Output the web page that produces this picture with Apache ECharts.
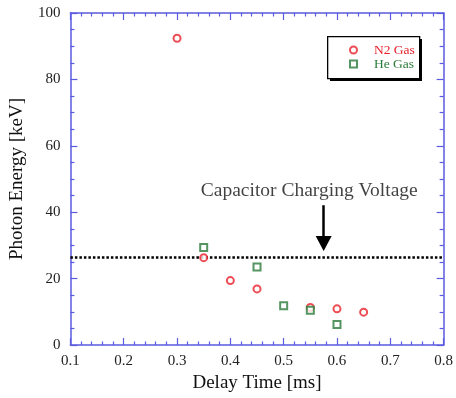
<!DOCTYPE html>
<html><head><meta charset="utf-8">
<script src="https://cdn.jsdelivr.net/npm/echarts@6/dist/echarts.min.js"></script>
<style>html,body{margin:0;padding:0;background:#fff}#c{width:456px;height:398px}</style>
</head><body><div id="c"></div>
<script>
var n2Delay = [0.3, 0.35, 0.4, 0.45, 0.55, 0.6, 0.65];
var n2Energy = [92.4, 26.3, 19.4, 16.9, 11.3, 10.9, 9.9];
var heDelay = [0.35, 0.45, 0.5, 0.55, 0.6];
var heEnergy = [29.4, 23.5, 11.8, 10.5, 6.2];
var chargingVoltage = 26.4;
var arrowX = 0.575;
var arrowFrom = 42.1;
var arrowTo = 30.6;
var annotationText = 'Capacitor Charging Voltage';
var annotationPos = [0.548, 46.3];

var serif = 'Liberation Serif';
var blue = '#5a5ae0';
function pairs(xs, ys){ return xs.map(function(x,i){ return [x, ys[i]]; }); }

var chart = echarts.init(document.getElementById('c'));
var baseX = {
  type:'value', min:0.1, max:0.8, interval:0.1,
  axisLine:{show:true, onZero:false, lineStyle:{color:blue, width:1.5}},
  axisTick:{show:true, inside:true, length:7, lineStyle:{color:blue, width:1.2}},
  minorTick:{show:true, splitNumber:5, length:3.5, lineStyle:{color:blue, width:1.2}},
  splitLine:{show:false}
};
var baseY = {
  type:'value', min:0, max:100, interval:20,
  axisLine:{show:true, onZero:false, lineStyle:{color:blue, width:1.5}},
  axisTick:{show:true, inside:true, length:7, lineStyle:{color:blue, width:1.2}},
  minorTick:{show:true, splitNumber:4, length:4, lineStyle:{color:blue, width:1.2}},
  splitLine:{show:false}
};
var option = {
  animation:false,
  backgroundColor:'#fff',
  grid:{left:69, right:11, top:13, bottom:53},
  graphic:[
    {type:'rect', left:330, top:39, z:1, silent:true, shape:{width:92, height:42}, style:{fill:'#000'}},
    {type:'rect', left:327, top:36, z:2, silent:true, shape:{width:92, height:42}, style:{fill:'#fff', stroke:'#000', lineWidth:1.3}}
  ],
  xAxis:[
    Object.assign({}, baseX, {
      position:'bottom',
      name:'Delay Time [ms]', nameLocation:'middle', nameGap:28,
      nameTextStyle:{fontFamily:serif, fontSize:19, color:'#111'},
      axisLabel:{fontFamily:serif, fontSize:15, color:'#222', margin:9,
        formatter:function(v){ return v.toFixed(1); }}
    }),
    Object.assign({}, baseX, {position:'top', axisLabel:{show:false}})
  ],
  yAxis:[
    Object.assign({}, baseY, {
      position:'left',
      name:'Photon Energy [keV]', nameLocation:'middle', nameGap:32,
      nameTextStyle:{fontFamily:serif, fontSize:19, color:'#111'},
      axisLabel:{fontFamily:serif, fontSize:15, color:'#222', margin:10}
    }),
    Object.assign({}, baseY, {position:'right', axisLabel:{show:false}})
  ],
  legend:{
    orient:'vertical', left:327, top:36, z:10,
    padding:[7, 6, 7, 22],
    itemWidth:7, itemHeight:7, itemGap:0,
    textStyle:{fontFamily:serif, fontSize:13.5, lineHeight:14, padding:[0,0,0,12]},
    data:[
      {name:'N2 Gas', textStyle:{color:'#e8202a'}},
      {name:'He Gas', textStyle:{color:'#2a7a3a'}}
    ]
  },
  series:[
    {
      name:'N2 Gas', type:'scatter', symbol:'emptyCircle', symbolSize:7,
      itemStyle:{color:'#e8202a', borderWidth:1.2},
      data:pairs(n2Delay, n2Energy), z:5
    },
    {
      name:'He Gas', type:'scatter', symbol:'emptyRect', symbolSize:7,
      itemStyle:{color:'#2a7a3a', borderWidth:1.2},
      data:pairs(heDelay, heEnergy), z:5
    },
    {
      name:'annot', type:'line', data:[], silent:true,
      markLine:{
        silent:true, symbol:'none', label:{show:false}, animation:false,
        lineStyle:{color:'#000', type:[2.5,2], width:2.5},
        data:[{yAxis:chargingVoltage}]
      }
    },
    {
      name:'arrow', type:'line', data:[], silent:true,
      markLine:{
        silent:true, symbol:['none','triangle'], symbolSize:[16,15], label:{show:false}, animation:false,
        lineStyle:{color:'#000', type:'solid', width:2.5},
        itemStyle:{color:'#000'},
        data:[[{coord:[arrowX, arrowFrom]},{coord:[arrowX, arrowTo]}]]
      }
    },
    {
      name:'text', type:'scatter', symbolSize:0, silent:true,
      data:[annotationPos],
      label:{show:true, position:'inside', formatter:annotationText,
        fontFamily:serif, fontSize:19.5, color:'#111'}
    }
  ]
};
chart.setOption(option);
</script>
</body></html>
